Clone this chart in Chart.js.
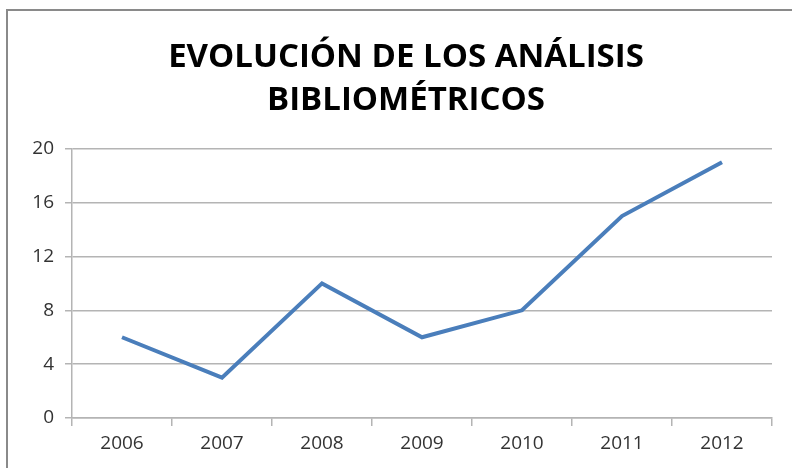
<!DOCTYPE html>
<html>
<head>
  <meta charset="utf-8">
  <title>Evolución de los análisis bibliométricos</title>
  <script src="https://cdn.jsdelivr.net/npm/chart.js@4.4.0/dist/chart.umd.min.js"></script>
  <style>
    body { margin: 0; background: #fff; }
    #frame {
      position: absolute; left: 6px; top: 9px;
      width: 820px; height: 500px;
      border: 2px solid #8a8a8a;
    }
    #wrap { position: absolute; left: 0; top: 0; width: 792px; height: 468px; }
  </style>
</head>
<body>
<div id="frame"></div>
<div id="wrap"><canvas id="myChart"></canvas></div>
<script>
  var years = ['2006', '2007', '2008', '2009', '2010', '2011', '2012'];
  var analisis = [6, 3, 10, 6, 8, 15, 19];
  var titleLines = ['EVOLUCIÓN DE LOS ANÁLISIS', 'BIBLIOMÉTRICOS'];

  var gridGray = '#b4b4b4';
  var textGray = '#333333';

  // nudge the title box so it is centred like the original
  var shiftTitle = {
    id: 'shiftTitle',
    afterLayout: function(chart) {
      if (chart.titleBlock) chart.titleBlock.left = 40;
    }
  };

  var ctx = document.getElementById('myChart').getContext('2d');
  var chart = new Chart(ctx, {
    type: 'line',
    data: {
      labels: years,
      datasets: [{
        label: 'Análisis',
        data: analisis,
        borderColor: '#4a7ebb',
        borderWidth: 4,
        pointRadius: 0,
        tension: 0,
        fill: false
      }]
    },
    options: {
      responsive: true,
      maintainAspectRatio: false,
      animation: false,
      layout: { padding: { left: 0, right: 20, top: 0, bottom: 0 } },
      scales: {
        x: {
          offset: true,
          grid: {
            offset: true,
            drawOnChartArea: false,
            drawTicks: true,
            tickLength: 8,
            color: gridGray,
            lineWidth: 1.5
          },
          border: { color: gridGray, width: 1.5 },
          ticks: {
            color: textGray,
            padding: 6,
            font: { family: 'Open Sans', size: 19 }
          },
          afterFit: function(scale) { scale.height = 50; }
        },
        y: {
          min: 0,
          max: 20,
          ticks: {
            stepSize: 4,
            color: textGray,
            padding: 11,
            font: { family: 'Open Sans', size: 19 }
          },
          grid: {
            color: gridGray,
            lineWidth: 1.5,
            tickLength: 7
          },
          border: { color: gridGray, width: 1.5 },
          afterFit: function(scale) { scale.width = 72; }
        }
      },
      plugins: {
        legend: { display: false },
        tooltip: { enabled: false },
        title: {
          display: true,
          text: titleLines,
          color: '#000',
          font: { family: 'Open Sans', size: 33, weight: 'bold', lineHeight: 1.3 },
          padding: { top: 36, bottom: 27 }
        }
      }
    },
    plugins: [shiftTitle]
  });
</script>
</body>
</html>
